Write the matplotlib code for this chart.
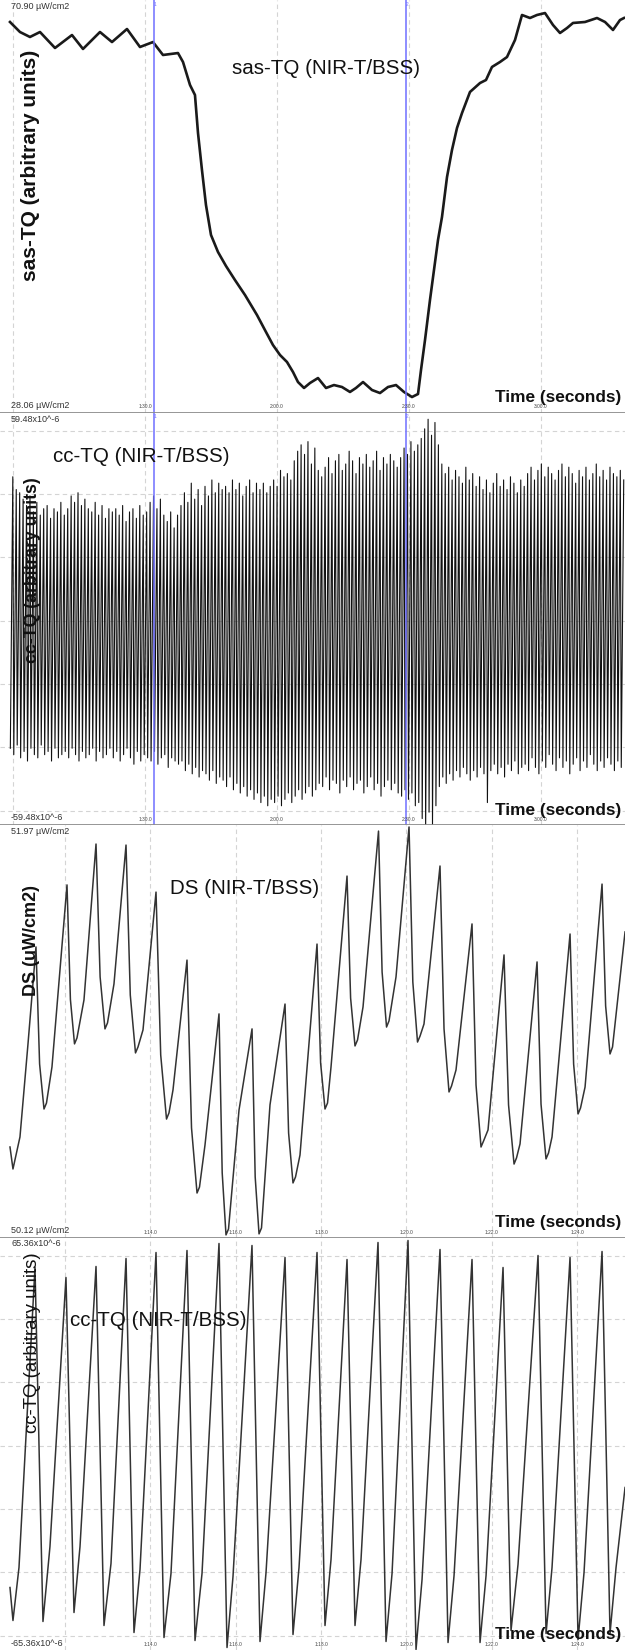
import numpy as np
import matplotlib
matplotlib.use("Agg")
import matplotlib.pyplot as plt
import matplotlib.transforms as mtransforms

plt.rcParams['font.family'] = ['Liberation Sans', 'DejaVu Sans']

# --- sas-TQ (s, µW/cm2), slow trace ---
sas_time = [59.32, 61.59, 63.86, 66.14, 69.55, 73.41, 75.91, 79.77, 82.50, 85.91,
            88.86, 91.82, 94.09, 97.50, 98.64, 100.23, 101.36, 102.05, 102.95, 103.86,
            105.00, 106.59, 108.41, 110.45, 112.73, 115.45, 117.50, 119.09, 120.68, 122.27,
            123.64, 124.77, 126.14, 127.50, 129.32, 131.14, 132.95, 134.77, 136.59, 137.95,
            139.55, 141.59, 143.41, 145.23, 147.05, 148.86, 150.68, 152.05, 152.73, 153.64,
            154.77, 155.68, 156.59, 157.50, 158.64, 159.77, 160.91, 162.05, 163.86, 166.14,
            167.50, 168.86, 170.68, 172.27, 174.09, 175.68, 177.50, 179.09, 180.91, 182.73,
            184.32, 185.91, 187.27, 190.00, 192.73, 194.55, 196.36, 197.95, 198.86]
sas_value = [70.45, 69.32, 68.76, 69.32, 67.52, 68.98, 67.41, 69.32, 68.19, 69.66,
             67.63, 68.19, 66.73, 66.95, 65.94, 63.35, 62.22, 57.93, 53.76, 49.82,
             46.44, 44.52, 42.94, 41.36, 39.67, 37.42, 35.50, 34.03, 32.91, 32.12,
             30.99, 29.86, 29.19, 29.75, 30.31, 29.19, 29.52, 29.30, 28.74, 29.19,
             29.86, 28.96, 28.62, 29.30, 29.52, 28.74, 28.17, 28.51, 31.22, 34.60,
             39.11, 42.49, 45.87, 48.47, 52.97, 56.02, 58.50, 60.19, 62.56, 63.57,
             63.91, 65.38, 65.94, 66.50, 68.42, 71.24, 70.90, 71.24, 71.46, 70.11,
             69.21, 69.77, 70.34, 70.45, 70.90, 70.45, 69.55, 70.67, 70.90]

# --- cc-TQ overview: one peak and one trough per beat (x10^-6) ---
cc_start = 59.4     # s, first beat
cc_period = 0.78    # s per beat
cc_peak = [45, 41, 40, 38,
           36, 39, 34, 37, 33, 35,
           36, 32, 35, 34, 37, 33, 35,
           39, 37, 40, 36, 38, 35,
           34, 37, 33, 36, 32, 35, 34,
           35, 33, 36, 31, 34, 35, 32, 36, 33, 34, 37,
           39, 35, 38, 33,
           31, 34, 29, 33, 36,
           40, 37, 43, 38, 41, 36, 42, 39,
           44, 40, 43, 41,
           42, 40, 44, 41, 43, 39, 42, 44, 40, 43,
           41, 43, 40, 42, 44, 42,
           47, 45, 46, 44,
           50, 53, 55, 52, 56, 49, 54,
           47, 45,
           48, 51, 46, 50, 52, 47, 49, 53, 50, 46, 51, 49, 52, 48, 50, 53, 47, 51, 49, 52, 50, 48, 51,
           54, 52, 56, 53, 55, 57,
           60, 63, 58, 62, 55,
           49, 46, 48, 44, 47, 45, 43, 48, 44, 46,
           42, 45, 41, 44, 40, 43, 46, 42, 44, 41, 45, 43, 40, 44, 42,
           46, 48, 44, 47, 49, 45, 48, 46, 44, 47, 49, 45, 48, 46, 43, 47, 45, 48, 44, 46,
           49, 45, 47, 44, 48, 46, 45, 47, 44]
cc_trough = [-40, -42, -39, -43,
             -41, -44, -40, -42, -43, -39,
             -42, -41, -44, -40, -43, -42, -41,
             -43, -40, -42, -44, -41, -43,
             -42, -40, -44, -41, -43, -42, -40,
             -43, -41, -44, -42, -40, -43, -45, -41, -44, -42, -43,
             -44, -41, -45, -43,
             -42, -46, -43, -44, -45,
             -44, -47, -45, -48, -46, -49, -47, -48,
             -50, -47, -51, -49,
             -50, -52, -49, -53, -51, -54, -52, -55, -53, -56,
             -54, -57, -55, -58, -56, -57,
             -55, -58, -56, -54,
             -57, -55, -53, -56, -54, -52, -55,
             -53, -51,
             -52, -49, -53, -50, -51, -54, -50, -52, -49, -53, -51, -50, -54, -52, -49, -53, -51, -55,
             -52, -50, -53, -51, -54,
             -55, -53, -56, -54, -58, -57,
             -62, -66, -60, -64, -58,
             -52, -49, -51, -48, -50, -47, -49, -46, -48, -50,
             -47, -49, -46, -48, -57, -47, -45, -48, -46, -49, -45, -47, -44, -48, -46,
             -45, -47, -43, -46, -48, -44, -46, -42, -45, -47, -43, -46, -44, -48, -45, -43, -47, -44,
             -46, -42, -45, -47, -44, -46, -43, -45, -47, -44, -46]

# --- DS zoomed (s, µW/cm2) ---
ds_time = [70.711, 70.781, 70.945, 71.133, 71.320, 71.405, 71.508, 71.566, 71.695, 72.047,
           72.127, 72.223, 72.281, 72.445, 72.727, 72.823, 72.937, 72.996, 73.148, 73.430,
           73.530, 73.652, 73.711, 73.828, 74.133, 74.243, 74.379, 74.437, 74.531, 74.859,
           74.965, 75.094, 75.152, 75.281, 75.609, 75.684, 75.773, 75.832, 76.078, 76.383,
           76.457, 76.547, 76.605, 76.804, 77.156, 77.240, 77.343, 77.402, 77.507, 77.906,
           77.990, 78.093, 78.152, 78.234, 78.609, 78.693, 78.796, 78.855, 78.984, 79.347,
           79.431, 79.535, 79.593, 79.757, 80.062, 80.151, 80.261, 80.320, 80.413, 80.788,
           80.882, 80.999, 81.058, 81.163, 81.538, 81.632, 81.749, 81.808, 81.913, 82.288,
           82.394, 82.523, 82.581, 82.663, 83.062, 83.155, 83.272, 83.331, 83.413, 83.835,
           83.919, 84.023, 84.081, 84.187, 84.585, 84.669, 84.772, 84.831, 85.124]
ds_value = [50.490, 50.383, 50.539, 50.992, 51.464, 50.894, 50.675, 50.704, 50.880, 51.766,
            51.208, 50.992, 51.021, 51.206, 51.965, 51.318, 51.065, 51.094, 51.284, 51.960,
            51.230, 50.948, 50.977, 51.060, 51.731, 50.938, 50.626, 50.656, 50.768, 51.400,
            50.583, 50.266, 50.295, 50.500, 51.138, 50.364, 50.062, 50.091, 50.670, 51.065,
            50.344, 50.067, 50.096, 50.695, 51.186, 50.558, 50.315, 50.344, 50.451, 51.478,
            50.899, 50.675, 50.704, 50.880, 51.809, 51.215, 50.982, 51.011, 51.172, 52.028,
            51.342, 51.074, 51.104, 51.318, 52.048, 51.293, 51.001, 51.030, 51.089, 51.858,
            51.065, 50.758, 50.787, 50.865, 51.576, 50.792, 50.490, 50.519, 50.573, 51.425,
            50.695, 50.407, 50.437, 50.505, 51.391, 50.699, 50.432, 50.461, 50.539, 51.527,
            50.894, 50.651, 50.680, 50.782, 51.770, 51.177, 50.943, 50.977, 51.537]

# --- cc-TQ zoomed (s, x10^-6) ---
cc2_time = [70.711, 70.781, 70.922, 71.297, 71.484, 71.648, 72.023, 72.211, 72.352, 72.727,
            72.914, 73.078, 73.430, 73.617, 73.758, 74.133, 74.320, 74.484, 74.859, 75.047,
            75.211, 75.609, 75.797, 75.937, 76.382, 76.570, 76.711, 77.156, 77.343, 77.484,
            77.906, 78.093, 78.234, 78.609, 78.796, 78.937, 79.335, 79.523, 79.664, 80.038,
            80.226, 80.367, 80.788, 80.976, 81.117, 81.538, 81.726, 81.867, 82.265, 82.452,
            82.616, 83.085, 83.273, 83.413, 83.835, 84.023, 84.163, 84.585, 84.772, 84.913,
            85.124]
cc2_value = [-48.85, -60.20, -41.97, 61.23, -60.54, -34.74, 57.79, -57.45, -34.74, 61.58,
             -61.92, -40.59, 64.33, -64.33, -42.66, 66.39, -66.05, -44.03, 67.08, -67.08,
             -44.03, 69.49, -69.49, -45.06, 68.80, -67.42, -43.69, 64.67, -65.02, -41.97,
             66.39, -61.92, -39.22, 63.98, -61.92, -39.22, 69.83, -67.42, -44.03, 70.52,
             -70.18, -46.10, 67.42, -67.77, -44.72, 63.98, -67.77, -44.72, 61.23, -63.64,
             -40.94, 65.36, -64.67, -41.97, 64.67, -66.74, -43.69, 66.74, -64.67, -41.97,
             -14.45]

markers = [92.05, 149.3]
wide_ticks = [60, 90, 120, 150, 180]
wide_labels = ['', '1:30.0', '2:00.0', '2:30.0', '3:00.0']
zoom_ticks = [72, 74, 76, 78, 80, 82, 84]
zoom_labels = ['', '1:14.0', '1:16.0', '1:18.0', '1:20.0', '1:22.0', '1:24.0']

W, H = 625, 1650
PH = H / 4.0  # panel height in px

panels = [
    dict(x=sas_time, y=sas_value, rng=(28.06, 70.90), top='70.90 µW/cm2', bot='28.06 µW/cm2',
         xlim=(57.05, 199.09), ticks=wide_ticks, labels=wide_labels, hgrid=False,
         title='sas-TQ (NIR-T/BSS)', title_pos=(232, 68), ylab='sas-TQ (arbitrary units)',
         ylab_pos=(31, 165), ylab_size=15, ylab_weight='bold', lw=1.9, color='#1a1a1a'),
    dict(x=None, y=None, rng=(-59.48, 59.48), top='59.48x10^-6', bot='-59.48x10^-6',
         xlim=(57.05, 199.09), ticks=wide_ticks, labels=wide_labels, hgrid=True,
         title='cc-TQ (NIR-T/BSS)', title_pos=(53, 44), ylab='cc-TQ (arbitrary units)',
         ylab_pos=(33, 158), ylab_size=12.7, ylab_weight='bold', lw=0.8, color='#111111'),
    dict(x=ds_time, y=ds_value, rng=(50.12, 51.97), top='51.97 µW/cm2', bot='50.12 µW/cm2',
         xlim=(70.477, 85.123), ticks=zoom_ticks, labels=zoom_labels, hgrid=False,
         title='DS (NIR-T/BSS)', title_pos=(170, 64), ylab='DS (uW/cm2)',
         ylab_pos=(31, 115), ylab_size=13, ylab_weight='bold', lw=1.1, color='#333333'),
    dict(x=cc2_time, y=cc2_value, rng=(-65.36, 65.36), top='65.36x10^-6', bot='-65.36x10^-6',
         xlim=(70.477, 85.123), ticks=zoom_ticks, labels=zoom_labels, hgrid=True,
         title='cc-TQ (NIR-T/BSS)', title_pos=(70, 83), ylab='cc-TQ (arbitrary units)',
         ylab_pos=(33, 105), ylab_size=13.4, ylab_weight='normal', lw=1.1, color='#333333'),
]

fig = plt.figure(figsize=(W / 100, H / 100), dpi=100)
fig.patch.set_facecolor('white')

for k, p in enumerate(panels):
    ax = fig.add_axes([0, 1 - (k + 1) / 4.0, 1, 0.25])
    ax.set_facecolor('white')
    bot, top = p['rng']
    per = (top - bot) / 380.0
    ax.set_ylim(bot - 14.5 * per, top + 18 * per)
    ax.set_xlim(*p['xlim'])

    for s in ['top', 'left', 'right']:
        ax.spines[s].set_visible(False)
    if k < 3:
        ax.spines['bottom'].set_color('#8c8c8c')
        ax.spines['bottom'].set_linewidth(2)
        ax.spines['bottom'].set_zorder(6)
    else:
        ax.spines['bottom'].set_visible(False)

    ax.set_xticks(p['ticks'])
    if p['hgrid']:
        ax.set_yticks(np.linspace(bot, top, 7))
    else:
        ax.set_yticks([])
    ax.tick_params(length=0, labelbottom=False, labelleft=False)
    ax.grid(True, axis='both' if p['hgrid'] else 'x', color='#d4d4d4',
            linestyle=(0, (4, 3)), linewidth=0.8)
    ax.set_axisbelow(True)

    # trace
    if k == 1:
        n = min(len(cc_peak), len(cc_trough))
        t0 = cc_start + cc_period * np.arange(n)
        xs = np.column_stack([t0, t0 + 0.72 * cc_period]).ravel()
        ys = np.column_stack([cc_trough[:n], cc_peak[:n]]).ravel()
        ax.plot(xs, ys, color=p['color'], lw=p['lw'], zorder=3)
    else:
        ax.plot(p['x'], p['y'], color=p['color'], lw=p['lw'], zorder=3,
                solid_joinstyle='round')

    # comment markers
    if k < 2:
        for i, m in enumerate(markers):
            ax.axvline(m, color='#6f6fff', lw=1.1, zorder=4)
            ax.text(m, 1 - 2 / PH, str(i + 1), transform=mtransforms.blended_transform_factory(
                ax.transData, ax.transAxes), color='#6f6fff', fontsize=3.5,
                ha='left', va='top', zorder=5)

    # range labels
    ax.text(11 / W, 1 - 2 / PH, p['top'], transform=ax.transAxes, fontsize=6.5,
            color='#333333', ha='left', va='top', zorder=5)
    ax.text(11 / W, 2.5 / PH, p['bot'], transform=ax.transAxes, fontsize=6.5,
            color='#333333', ha='left', va='bottom', zorder=5)

    # time labels
    tr = mtransforms.blended_transform_factory(ax.transData, ax.transAxes)
    for t, lab in zip(p['ticks'], p['labels']):
        if lab:
            ax.text(t, 3 / PH, lab, transform=tr, fontsize=3.5, color='#444444',
                    ha='center', va='bottom', zorder=5)

    ax.text(621 / W, 15 / PH, 'Time (seconds)', transform=ax.transAxes, fontsize=12.4,
            fontweight='bold', color='#111111', ha='right', va='center', zorder=5)

    tx, ty = p['title_pos']
    ax.text(tx / W, 1 - ty / PH, p['title'], transform=ax.transAxes, fontsize=14.8,
            color='#111111', ha='left', va='center', zorder=5)

    lx, ly = p['ylab_pos']
    ax.text(lx / W, 1 - ly / PH, p['ylab'], transform=ax.transAxes, fontsize=p['ylab_size'],
            fontweight=p['ylab_weight'], color='#111111', rotation=90,
            ha='center', va='center', zorder=5)

fig.savefig('out.png', dpi=100, facecolor='white')
